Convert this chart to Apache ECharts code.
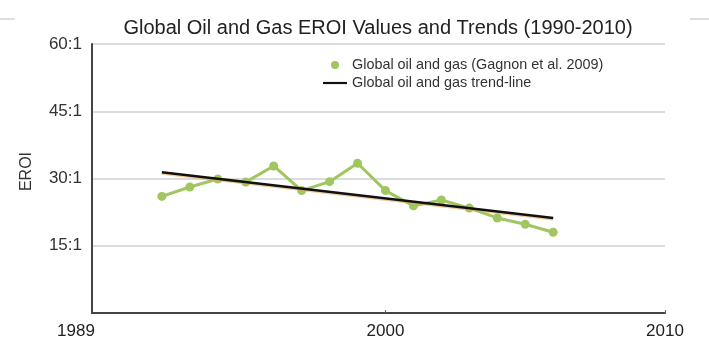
<!DOCTYPE html>
<html><head><meta charset="utf-8">
<script src="https://cdn.jsdelivr.net/npm/echarts@6/dist/echarts.min.js"></script>
<style>html,body{margin:0;padding:0;background:#fff}#c{width:709px;height:340px}</style>
</head><body><div id="c"></div>
<script>
// ---- data ----
const years = [1992,1993,1994,1995,1996,1997,1998,1999,2000,2001,2002,2003,2004,2005,2006];
const eroi = [26.0,28.1,29.9,29.2,32.8,27.3,29.3,33.4,27.3,23.9,25.2,23.4,21.2,19.8,18.0];
const trendYears = [1992, 2006];
const trendValues = [31.4, 21.2];
const xTickValues = [1989, 2000, 2010];
const xTickLabels = ['1989', '2000', '2010'];
const yTickValues = [15, 30, 45, 60];
const seriesNames = ['Global oil and gas (Gagnon et al. 2009)', 'Global oil and gas trend-line'];
const titleText = 'Global Oil and Gas EROI Values and Trends (1990-2010)';
const yName = 'EROI';

// ---- chart ----
const FONT = '"Liberation Sans", Arial, Helvetica, sans-serif';
const xMin = 1989.5, xMax = 2010;
const xLabelPos = xTickValues.map(v => Math.max(v, xMin));
const chart = echarts.init(document.getElementById('c'), null, {renderer: 'canvas'});
chart.setOption({
  animation: false,
  backgroundColor: '#fff',
  title: {
    text: titleText, left: 378, textAlign: 'center', top: 18, padding: 0,
    textStyle: {fontFamily: FONT, fontSize: 20, fontWeight: 'normal', color: '#222'}
  },
  graphic: [
    {type: 'line', shape: {x1: 0, y1: 19, x2: 15, y2: 19}, style: {stroke: '#bdbdbd', lineWidth: 1}},
    {type: 'line', shape: {x1: 690, y1: 19, x2: 709, y2: 19}, style: {stroke: '#bdbdbd', lineWidth: 1}}
  ],
  legend: {
    orient: 'vertical', left: 323, top: 58, padding: 0, itemGap: 4,
    itemWidth: 24, itemHeight: 8,
    textStyle: {fontFamily: FONT, fontSize: 14.4, color: '#333'},
    data: [
      {name: seriesNames[0], icon: 'circle'},
      {name: seriesNames[1], icon: 'path://M0,0H24V2.2H0Z'}
    ]
  },
  grid: {left: 92, right: 44, top: 44, bottom: 27, containLabel: false},
  xAxis: {
    type: 'value', min: xMin, max: xMax,
    axisLine: {lineStyle: {color: '#444', width: 2}},
    axisTick: {show: true, inside: true, length: 3, customValues: xTickValues.filter(v => v > xMin), lineStyle: {color: '#666'}},
    splitLine: {show: false},
    axisLabel: {
      customValues: xLabelPos, margin: 10,
      fontFamily: FONT, fontSize: 17, color: '#222',
      formatter: function (v) {
        const i = xLabelPos.findIndex(p => Math.abs(p - v) < 1e-6);
        if (i < 0) return '';
        return xTickValues[i] < xMin ? '{s|' + xTickLabels[i] + '}' : xTickLabels[i];
      },
      rich: {s: {fontFamily: FONT, fontSize: 17, color: '#222', padding: [0, 32, 0, 0]}}
    }
  },
  yAxis: {
    type: 'value', min: 0, max: 60, interval: 15,
    name: yName, nameLocation: 'middle', nameGap: 57, nameRotate: 90,
    nameTextStyle: {fontFamily: FONT, fontSize: 16, color: '#333', padding: [0, 0, 0, 14]},
    axisLine: {show: true, lineStyle: {color: '#444', width: 2}},
    axisTick: {show: false},
    splitLine: {show: true, lineStyle: {color: '#d0d0d0', width: 1.5}},
    axisLabel: {
      margin: 10, fontFamily: FONT, fontSize: 17, color: '#333',
      formatter: v => yTickValues.indexOf(v) >= 0 ? v + ':1' : ''
    }
  },
  series: [
    {
      name: seriesNames[0], type: 'line',
      data: years.map((y, i) => [y, eroi[i]]),
      symbol: 'circle', symbolSize: 9, showSymbol: true,
      lineStyle: {color: '#a0c660', width: 3},
      itemStyle: {color: '#a0c660'},
      z: 2
    },
    {
      name: seriesNames[1], type: 'line',
      data: trendYears.map((y, i) => [y, trendValues[i]]),
      symbol: 'none',
      lineStyle: {color: '#111', width: 2.5, shadowColor: 'rgba(230,170,90,0.6)', shadowOffsetY: 1.2, shadowBlur: 0},
      itemStyle: {color: '#111'},
      z: 3
    }
  ]
});
</script>
</body></html>
